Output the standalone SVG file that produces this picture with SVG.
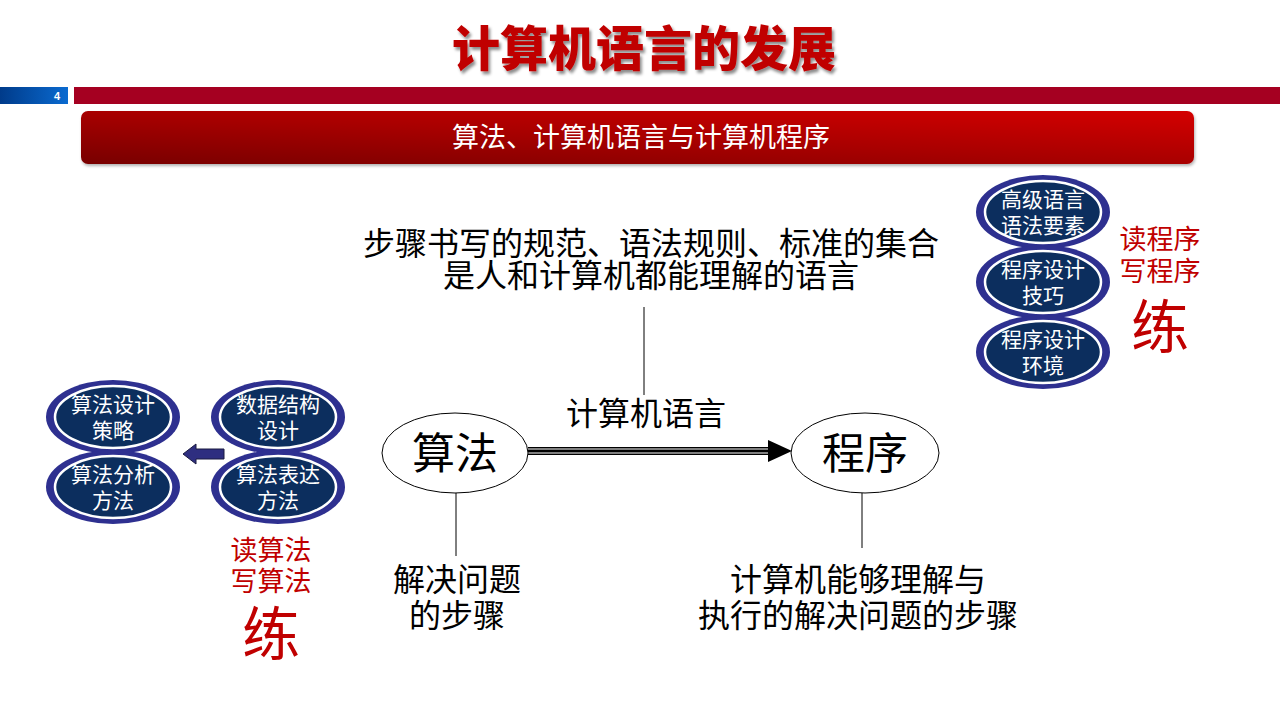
<svg xmlns="http://www.w3.org/2000/svg" width="1280" height="720" viewBox="0 0 1280 720">
<defs>
<linearGradient id="blueBar" x1="0" y1="0" x2="1" y2="0"><stop offset="0" stop-color="#003b8a"/><stop offset="1" stop-color="#0a6ad0"/></linearGradient>
<linearGradient id="banner" x1="0" y1="1" x2="1" y2="0"><stop offset="0" stop-color="#780000"/><stop offset="0.5" stop-color="#a80000"/><stop offset="1" stop-color="#d40000"/></linearGradient>
<filter id="shadow" x="-10%" y="-20%" width="120%" height="150%"><feDropShadow dx="2" dy="3" stdDeviation="1.5" flood-color="#000" flood-opacity="0.45"/></filter>
<filter id="bshadow" x="-5%" y="-20%" width="110%" height="150%"><feDropShadow dx="1" dy="2" stdDeviation="1.5" flood-color="#000" flood-opacity="0.3"/></filter>
</defs>
<style>
text{font-family:"Noto Sans CJK SC","Noto Sans",sans-serif;text-anchor:middle}
.t{font-size:32px;fill:#000}
.et{font-size:21px;fill:#fff}
.red{fill:#c00000;font-size:27px}
.lian{fill:#c00000;font-size:58px}
.ring{fill:#2e3090}
.core{fill:#0c2e5e;stroke:#fff;stroke-width:2.5}
.ln{stroke:#000;stroke-width:1;fill:none}
.oval{fill:#fff;stroke:#000;stroke-width:1}
</style>
<rect width="1280" height="720" fill="#fff"/>
<g id="header">
<text x="644" y="66" font-size="48" font-weight="900" fill="#c00000" filter="url(#shadow)">计算机语言的发展</text>
<rect x="0" y="87" width="68" height="17" fill="url(#blueBar)"/>
<text x="57" y="100" font-size="11" font-weight="bold" fill="#fff" style="font-family:'Liberation Sans',sans-serif">4</text>
<rect x="74" y="87" width="1206" height="17" fill="#a50021"/>
<rect x="81" y="111" width="1113" height="53" rx="7" fill="url(#banner)" filter="url(#bshadow)"/>
<text x="641" y="147" font-size="27" fill="#fff">算法、计算机语言与计算机程序</text>
</g>
<g id="connectors">
<line class="ln" x1="644" y1="307" x2="644" y2="395"/>
<line class="ln" x1="456" y1="493" x2="456" y2="556"/>
<line class="ln" x1="862" y1="493" x2="862" y2="548"/>
<line x1="528" y1="451" x2="770" y2="451" stroke="#000" stroke-width="8"/>
<line x1="528" y1="449" x2="770" y2="449" stroke="#aaa" stroke-width="1.3"/>
<line x1="528" y1="453" x2="770" y2="453" stroke="#aaa" stroke-width="1.3"/>
<path d="M768,440 L792,451 L768,462 Z" fill="#000"/>
<path d="M224,449 L196,449 L196,444 L183,454 L196,464 L196,459 L224,459 Z" fill="#2e2e80" stroke="#1a1a40" stroke-width="1"/>
</g>
<g id="desc-top">
<text class="t" x="651" y="255">步骤书写的规范、语法规则、标准的集合<tspan x="651" dy="32">是人和计算机都能理解的语言</tspan></text>
</g>
<g id="label-lang"><text class="t" x="646" y="425">计算机语言</text></g>
<g id="node-algo">
<ellipse class="oval" cx="455" cy="453" rx="73" ry="40"/>
<text x="455" y="469" font-size="43">算法</text>
</g>
<g id="node-prog">
<ellipse class="oval" cx="865" cy="453" rx="74" ry="40"/>
<text x="865" y="469" font-size="43">程序</text>
</g>
<g id="desc-algo">
<text class="t" x="457" y="591">解决问题<tspan x="457" dy="36">的步骤</tspan></text>
</g>
<g id="desc-prog">
<text class="t" x="858" y="591">计算机能够理解与<tspan x="858" dy="36">执行的解决问题的步骤</tspan></text>
</g>
<g id="e-l1"><ellipse class="ring" cx="113" cy="417" rx="67" ry="37"/><ellipse class="core" cx="113" cy="417" rx="58" ry="31"/><text class="et" x="113" y="412">算法设计<tspan x="113" dy="26">策略</tspan></text></g>
<g id="e-l2"><ellipse class="ring" cx="113" cy="487" rx="67" ry="37"/><ellipse class="core" cx="113" cy="487" rx="58" ry="31"/><text class="et" x="113" y="482">算法分析<tspan x="113" dy="26">方法</tspan></text></g>
<g id="e-l3"><ellipse class="ring" cx="278" cy="417" rx="67" ry="37"/><ellipse class="core" cx="278" cy="417" rx="58" ry="31"/><text class="et" x="278" y="412">数据结构<tspan x="278" dy="26">设计</tspan></text></g>
<g id="e-l4"><ellipse class="ring" cx="278" cy="487" rx="67" ry="37"/><ellipse class="core" cx="278" cy="487" rx="58" ry="31"/><text class="et" x="278" y="482">算法表达<tspan x="278" dy="26">方法</tspan></text></g>
<g id="practice-left">
<text class="red" x="271" y="560">读算法<tspan x="271" dy="31">写算法</tspan></text>
<text class="lian" x="271" y="655">练</text>
</g>
<g id="e-r1"><ellipse class="ring" cx="1043" cy="212" rx="67" ry="37"/><ellipse class="core" cx="1043" cy="212" rx="58" ry="31"/><text class="et" x="1043" y="207">高级语言<tspan x="1043" dy="26">语法要素</tspan></text></g>
<g id="e-r2"><ellipse class="ring" cx="1043" cy="282" rx="67" ry="37"/><ellipse class="core" cx="1043" cy="282" rx="58" ry="31"/><text class="et" x="1043" y="277">程序设计<tspan x="1043" dy="26">技巧</tspan></text></g>
<g id="e-r3"><ellipse class="ring" cx="1043" cy="352" rx="67" ry="37"/><ellipse class="core" cx="1043" cy="352" rx="58" ry="31"/><text class="et" x="1043" y="347">程序设计<tspan x="1043" dy="26">环境</tspan></text></g>
<g id="practice-right">
<text class="red" x="1160" y="249">读程序<tspan x="1160" dy="32">写程序</tspan></text>
<text class="lian" x="1160" y="348">练</text>
</g>
</svg>
